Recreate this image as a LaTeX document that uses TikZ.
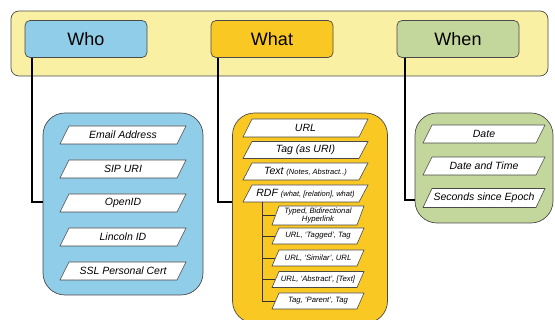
\documentclass[tikz,border=0pt]{standalone}
\usepackage{fontspec}
\setmainfont{Liberation Sans}
\usetikzlibrary{calc}
\definecolor{barfill}{HTML}{FAF0A3}
\definecolor{whofill}{HTML}{8FCDE8}
\definecolor{whatfill}{HTML}{F9C823}
\definecolor{whenfill}{HTML}{C3D69C}
\definecolor{edge}{HTML}{4A4A4A}
\tikzset{
  headbox/.style={draw=edge, line width=0.7pt, rounded corners=5pt, minimum width=122pt, minimum height=37pt, font=\fontsize{18}{20}\selectfont, inner sep=0pt},
  container/.style={draw=edge, line width=0.7pt, rounded corners=22pt, inner sep=0pt},
  plgshape/.style={draw=edge, line width=0.6pt, fill=white},
  plgtext/.style={inner sep=0pt, align=center, font=\itshape\fontsize{10.5}{12}\selectfont},
  subtext/.style={inner sep=0pt, align=center, font=\itshape\fontsize{7.7}{8.5}\selectfont},
  link/.style={draw=black, line width=1.9pt},
  tree/.style={draw=black!80, line width=0.8pt}
}
% #1 name, #2 cx, #3 cy, #4 half body width, #5 half height, #6 half slant, #7 style, #8 text
\newcommand\plg[8]{%
  \draw[plgshape] ({#2-#4-#6},{#3+#5}) -- ({#2+#4-#6},{#3+#5}) -- ({#2+#4+#6},{#3-#5}) -- ({#2-#4+#6},{#3-#5}) -- cycle;
  \node[#7, minimum width={2*#4}, minimum height={2*#5}] (#1) at (#2,#3) {#8};
}
\begin{document}
\begin{tikzpicture}[x=1pt,y=-1pt]
\useasboundingbox (0,0) rectangle (555,320);
% top bar
\draw[draw=edge, line width=0.7pt, fill=barfill, rounded corners=8pt] (11,11) rectangle (548,76);
\node[headbox, fill=whofill] (who) at (86,39) {Who};
\node[headbox, fill=whatfill] (what) at (272,39) {What};
\node[headbox, fill=whenfill] (when) at (458,39) {When};
% containers
\node[container, fill=whofill, minimum width=160pt, minimum height=182pt] (whobox) at (123,204) {};
\node[container, fill=whatfill, minimum width=155pt, minimum height=210pt] (whatbox) at (310,218) {};
\node[container, fill=whenfill, minimum width=138pt, minimum height=110pt] (whenbox) at (484,168) {};
% connectors
\draw[link] ([xshift=7pt]who.south west) |- (whobox.west |- 0,202);
\draw[link] ([xshift=7pt]what.south west) |- (whatbox.west |- 0,202);
\draw[link] ([xshift=8pt]when.south west) |- (whenbox.west |- 0,200);
% who items
\plg{email}{123}{135}{58.5}{9}{4.5}{plgtext}{Email Address}
\plg{sip}{123}{169}{58.5}{9}{4.5}{plgtext}{SIP URI}
\plg{openid}{123}{203}{58.5}{9}{4.5}{plgtext}{OpenID}
\plg{lincoln}{123}{237}{58.5}{9}{4.5}{plgtext}{Lincoln ID}
\plg{ssl}{123}{271}{58.5}{9}{4.5}{plgtext}{SSL Personal Cert}
% what items
\plg{url}{305.5}{128}{58}{9}{4.5}{plgtext}{URL}
\plg{tag}{305.5}{150}{58}{8.5}{4.5}{plgtext}{Tag (as URI)}
\plg{text}{305.5}{171.5}{58}{8.5}{4.5}{plgtext}{Text {\fontsize{7.5}{8}\selectfont(Notes, Abstract..)}}
\plg{rdf}{305.5}{193.5}{58}{8.5}{4.5}{plgtext}{RDF {\fontsize{7.5}{8}\selectfont(what, [relation], what)}}
% rdf sub items
\plg{typed}{318}{215.5}{42.5}{9.5}{3.5}{subtext}{Typed, Bidirectional\\Hyperlink}
\plg{tagged}{318}{236}{42.5}{8}{3.5}{subtext}{URL, `Tagged', Tag}
\plg{similar}{318}{258}{42.5}{8}{3.5}{subtext}{URL, `Similar', URL}
\plg{abstract}{318}{279.5}{42.5}{8}{3.5}{subtext}{URL, `Abstract', [Text]}
\plg{parent}{318}{301}{42.5}{8}{3.5}{subtext}{Tag, `Parent', Tag}
\coordinate (stem) at (262,202);
\draw[tree] (stem) |- (typed.west);
\draw[tree] (stem) |- (tagged.west);
\draw[tree] (stem) |- (similar.west);
\draw[tree] (stem) |- (abstract.west);
\draw[tree] (stem) |- (parent.west);
% when items
\plg{date}{484}{134}{56.5}{9}{4.5}{plgtext}{Date}
\plg{datetime}{484}{166}{56.5}{9}{4.5}{plgtext}{Date and Time}
\plg{epoch}{484}{198}{56.5}{9.5}{4.5}{plgtext}{Seconds since Epoch}
\end{tikzpicture}
\end{document}
